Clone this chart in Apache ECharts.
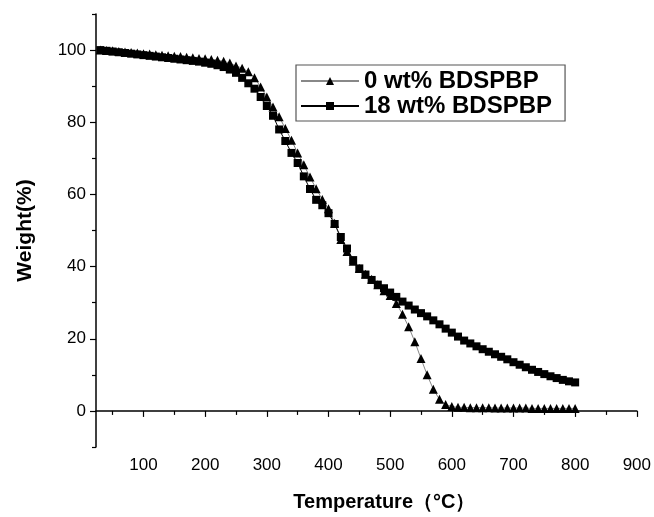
<!DOCTYPE html>
<html>
<head>
<meta charset="utf-8">
<script src="https://cdn.jsdelivr.net/npm/echarts@6/dist/echarts.min.js"></script>
<style>
html,body{margin:0;padding:0;background:#fff;}
#chart{width:654px;height:517px;}
</style>
</head>
<body>
<div id="chart"></div>
<script>
const temps = [30,40,50,60,70,80,90,100,110,120,130,140,150,160,170,180,190,200,210,220,230,240,250,260,270,280,290,300,310,320,330,340,350,360,370,380,390,400,410,420,430,440,450,460,470,480,490,500,510,520,530,540,550,560,570,580,590,600,610,620,630,640,650,660,670,680,690,700,710,720,730,740,750,760,770,780,790,800];
const w0 = [100,99.9,99.8,99.6,99.5,99.3,99.2,99.0,98.9,98.7,98.6,98.4,98.3,98.2,98.0,97.9,97.7,97.6,97.4,97.2,96.9,96.4,95.6,95.0,94.0,92.3,89.8,87.0,84.2,81.5,78.3,75.0,71.5,68.2,64.8,61.6,58.6,56.0,52.0,47.5,44.2,41.5,39.5,37.9,36.5,35.0,33.3,32.0,29.8,26.8,23.3,19.2,14.5,10.0,6.0,3.2,1.8,1.2,1.0,1.0,0.9,0.9,0.9,0.9,0.8,0.8,0.8,0.8,0.8,0.8,0.7,0.7,0.7,0.7,0.7,0.7,0.7,0.7];
const w18 = [100,99.8,99.6,99.4,99.2,99.0,98.8,98.6,98.4,98.2,98.0,97.8,97.6,97.4,97.2,97.0,96.8,96.5,96.2,95.8,95.3,94.6,93.7,92.3,90.8,89.3,87.0,84.5,81.8,78.0,74.8,71.5,68.7,65.0,61.5,58.5,57.0,54.8,51.8,48.2,45.0,41.8,39.5,37.8,36.3,35.0,34.0,32.8,31.6,30.3,29.2,28.1,27.1,26.2,25.1,24.0,22.8,21.7,20.6,19.5,18.7,17.9,17.1,16.4,15.7,15.0,14.3,13.5,12.8,12.1,11.4,10.8,10.2,9.6,9.1,8.6,8.2,7.9];
const seriesNames = ['0 wt% BDSPBP','18 wt% BDSPBP'];
const xMajor = [100,200,300,400,500,600,700,800,900];
const xMinor = [50,150,250,350,450,550,650,750,850];
const yMajor = [0,20,40,60,80,100];
const yMinor = [-10,10,30,50,70,90,110];

const FONT = '"Liberation Sans", Arial, sans-serif';
const chart = echarts.init(document.getElementById('chart'));
const pair = (ys) => temps.map((t,i)=>[t, ys[i]]);
const axisLine = {show:true, lineStyle:{color:'#000', width:1.5}};
chart.setOption({
  animation:false,
  backgroundColor:'#fff',
  grid:{left:96, right:17, top:14, bottom:65},
  legend:{
    left:296, top:65, orient:'vertical',
    data:seriesNames,
    itemWidth:58, itemHeight:10, itemGap:1,
    borderColor:'#555', borderWidth:1.2,
    padding:[4,13,3,4],
    textStyle:{fontFamily:FONT, fontWeight:'bold', fontSize:24, color:'#000'}
  },
  xAxis:[{
    type:'value', min:23, max:900,
    axisLine:axisLine,
    splitLine:{show:false},
    axisTick:{show:true, inside:false, length:6, customValues:xMajor, lineStyle:{color:'#000', width:1.2}},
    axisLabel:{customValues:xMajor, fontFamily:FONT, fontSize:17, color:'#000', margin:10},
    name:'Temperature（°C）', nameLocation:'middle', nameGap:45,
    nameTextStyle:{fontFamily:FONT, fontWeight:'bold', fontSize:20, color:'#000', padding:[0,0,0,36]}
  },{
    type:'value', min:23, max:900, position:'bottom',
    axisLine:{show:false}, splitLine:{show:false},
    axisTick:{show:true, length:4, customValues:xMinor, lineStyle:{color:'#000', width:1.2}},
    axisLabel:{show:false}
  }],
  yAxis:[{
    type:'value', min:-10, max:110,
    axisLine:axisLine,
    splitLine:{show:false},
    axisTick:{show:true, length:6, customValues:yMajor, lineStyle:{color:'#000', width:1.2}},
    axisLabel:{customValues:yMajor, fontFamily:FONT, fontSize:17, color:'#000', margin:10},
    name:'Weight(%)', nameLocation:'middle', nameGap:60,
    nameTextStyle:{fontFamily:FONT, fontWeight:'bold', fontSize:21, color:'#000'}
  },{
    type:'value', min:-10, max:110, position:'left',
    axisLine:{show:false}, splitLine:{show:false},
    axisTick:{show:true, length:4, customValues:yMinor, lineStyle:{color:'#000', width:1.2}},
    axisLabel:{show:false}
  }],
  series:[{
    name:seriesNames[0], type:'line', xAxisIndex:0, yAxisIndex:0,
    data:pair(w0),
    symbol:'triangle', symbolSize:9,
    itemStyle:{color:'#000'},
    lineStyle:{color:'#888', width:1},
    z:2
  },{
    name:seriesNames[1], type:'line', xAxisIndex:0, yAxisIndex:0,
    data:pair(w18),
    symbol:'rect', symbolSize:8,
    itemStyle:{color:'#000'},
    lineStyle:{color:'#000', width:1},
    z:3
  }]
});
</script>
</body>
</html>
